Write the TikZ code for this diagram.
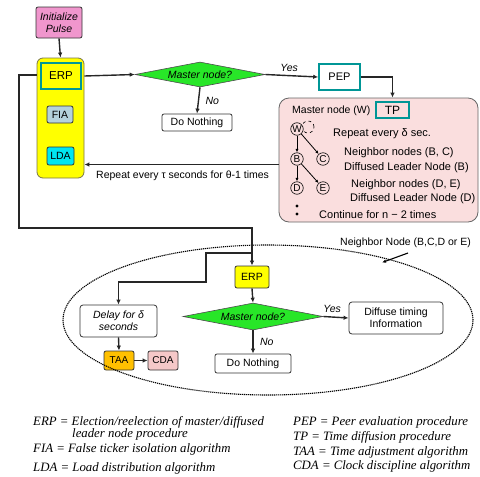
\documentclass[tikz,border=0pt]{standalone}
\usepackage{fontspec}
\setmainfont{Liberation Sans}
\newfontfamily\legfont{Liberation Serif}
\usetikzlibrary{shapes.geometric,arrows.meta}
\definecolor{pinkbox}{RGB}{240,150,205}
\definecolor{yel}{RGB}{255,255,0}
\definecolor{teal2}{RGB}{0,150,150}
\definecolor{fiac}{RGB}{180,210,220}
\definecolor{ldac}{RGB}{0,230,240}
\definecolor{grn}{RGB}{40,230,40}
\definecolor{tpbg}{RGB}{250,222,222}
\definecolor{taac}{RGB}{255,192,0}
\definecolor{cdac}{RGB}{245,200,200}
\begin{document}
\begin{tikzpicture}[x=1pt,y=-1pt,
  font=\fontsize{10.5}{12}\selectfont,
  box/.style={draw=black!80, rounded corners=2pt, line width=0.8pt, inner sep=0pt, align=center},
  tealbox/.style={draw=teal2, line width=1.6pt, inner sep=0pt, align=center},
  dia/.style={diamond, draw=black!70, fill=grn, inner sep=0pt, line width=0.6pt, font=\fontsize{10.5}{12}\selectfont\itshape},
  arr/.style={-{Latex[length=5pt,width=4.5pt]}, line width=1.4pt, draw=black!85},
  tarr/.style={-{Latex[length=3.5pt,width=3pt]}, line width=0.8pt},
  tn/.style={circle, draw, line width=0.6pt, fill=tpbg, minimum size=12.5pt, inner sep=0pt, font=\fontsize{10}{11}\selectfont},
  lab/.style={anchor=west, inner sep=0pt},
  tlab/.style={anchor=west, inner sep=0pt, font=\fontsize{11}{13}\selectfont},
  ital/.style={font=\fontsize{10.5}{12}\selectfont\itshape},
  leg/.style={anchor=west, inner sep=0pt, font=\fontsize{12.8}{14}\selectfont\legfont\itshape}
]
\useasboundingbox (0,0) rectangle (480,477);
\clip (0,0) rectangle (480,477);

% top part
\node[box, fill=pinkbox, minimum width=46pt, minimum height=31pt, ital] (init) at (59,22.5) {Initialize\\Pulse};
\node[box, draw=black!60!yellow, fill=yel, rounded corners=6pt, minimum width=47pt, minimum height=120pt] (ybox) at (60.5,118) {};
\node[tealbox, fill=yel, minimum width=40pt, minimum height=26pt, font=\fontsize{11.5}{13}\selectfont] (erp1) at (61,76) {ERP};
\node[box, fill=fiac, minimum width=26pt, minimum height=17pt] (fia) at (60,114.5) {FIA};
\node[box, fill=ldac, minimum width=27pt, minimum height=18pt] (lda) at (60.5,156) {LDA};

\node[dia, shape aspect=5.2, minimum width=130pt, minimum height=25pt] (d1) at (200,74.5) {Master node?};
\node[box, fill=white, minimum width=70pt, minimum height=17pt] (dn1) at (197,122.5) {Do Nothing};
\node[tealbox, fill=white, minimum width=41pt, minimum height=26pt, font=\fontsize{11}{13}\selectfont] (pep) at (339.5,77) {PEP};

\node[box, draw=black!60, fill=tpbg, rounded corners=10pt, minimum width=199pt, minimum height=124pt] (pink) at (378.5,160) {};
\node[tealbox, fill=tpbg, minimum width=33pt, minimum height=16pt, font=\fontsize{12}{13}\selectfont] (tp) at (392.5,110) {TP};
\node[lab] (mw) at (292,111) {Master node (W)};

% tree
\draw[dashed, line width=0.6pt] (308,127) circle (6pt);
\node[tn] (W) at (297,129) {W};
\node[tn] (B) at (297,159) {B};
\node[tn] (C) at (323,159) {C};
\node[tn] (D) at (297,188) {D};
\node[tn] (E) at (323,188) {E};
\draw[tarr] (W) -- (B);
\draw[tarr] (W) -- (C);
\draw[tarr] (B) -- (D);
\draw[tarr] (B) -- (E);
\fill (297,206) circle (1.7pt);
\fill (297,214) circle (1.7pt);
\node[tlab] (t1) at (333,134) {Repeat every δ sec.};
\node[tlab] (t2) at (344,153) {Neighbor nodes (B, C)};
\node[tlab] (t3) at (344,168) {Diffused Leader Node (B)};
\node[tlab] (t4) at (351,185) {Neighbor nodes (D, E)};
\node[tlab] (t5) at (350,199) {Diffused Leader Node (D)};
\node[tlab] (t6) at (319,215) {Continue for n − 2 times};

% top connectors
\draw[arr] (init.south) -- (ybox.north);
\draw[arr] (ybox.east |- erp1) -- (d1.west);
\draw[arr] (d1.south) -- node[right=3pt, ital] {No} (dn1.north);
\draw[arr] (d1.east) -- node[above=0pt, pos=0.45, ital] {Yes} (pep.west);
\draw[arr] (pep.east) -| (tp.north |- pink.north);
\coordinate (rp) at (pink.west |- 0,164.5);
\draw[arr] (rp) -- (ybox.east |- rp);
\node[lab] (rtxt) at (96,176) {Repeat every τ seconds for θ-1 times};

% bottom part
\node[box, fill=yel, minimum width=34pt, minimum height=22pt] (erp2) at (252,277) {ERP};
\node[dia, shape aspect=5.2, minimum width=140pt, minimum height=27pt] (d2) at (253,316.5) {Master node?};
\node[box, fill=white, rounded corners=3pt, minimum width=94pt, minimum height=32pt] (dif) at (396,318) {Diffuse timing\\Information};
\node[box, fill=white, minimum width=76pt, minimum height=19pt] (dn2) at (253,363.5) {Do Nothing};
\node[box, fill=white, rounded corners=3pt, minimum width=77pt, minimum height=32pt, ital] (delay) at (118.5,321) {Delay for δ\\seconds};
\node[box, fill=taac, minimum width=30pt, minimum height=19pt, font=\fontsize{10}{11}\selectfont] (taa) at (119,360.5) {TAA};
\node[box, fill=cdac, minimum width=30pt, minimum height=19pt, font=\fontsize{10}{11}\selectfont] (cda) at (163,360.5) {CDA};

\draw[line width=1.1pt, dash pattern=on 1.2pt off 0.8pt] (268,320) ellipse [x radius=205pt, y radius=75pt];
\node[lab] (nn) at (340,243) {Neighbor Node (B,C,D or E)};
\coordinate (np1) at (408,253);
\coordinate (np2) at (382,262.5);
\draw[-{Latex[length=4pt,width=3.5pt]}, line width=1.1pt] (np1) -- (np2);

\coordinate (lp1) at (19,75);
\coordinate (lp2) at (19,228);
\draw[arr] (ybox.west |- lp1) -- (lp1) -- (lp2) -- (erp2.north |- lp2) -- (erp2.north);
\coordinate (bp1) at (252,253);
\coordinate (bp2) at (206,253);
\coordinate (bp3) at (206,282);
\draw[arr] (bp1) -- (bp2) -- (bp3) -- (delay.north |- bp3) -- (delay.north);

\draw[arr] (erp2.south) -- (d2.north);
\draw[arr] (d2.east) -- node[above=0pt, pos=0.35, ital] {Yes} (dif.west);
\draw[arr] (d2.south) -- node[right=3pt, ital] {No} (dn2.north);
\draw[arr] (delay.south) -- (taa.north);
\draw[arr] (taa.east) -- (cda.west);

% legend
\node[leg] (l1) at (33,422) {ERP = Election/reelection of master/diffused};
\node[leg] (l2) at (72,434) {leader node procedure};
\node[leg] (l3) at (33,449) {FIA = False ticker isolation algorithm};
\node[leg] (l4) at (33,468) {LDA = Load distribution algorithm};
\node[leg] (r1) at (293,422) {PEP = Peer evaluation procedure};
\node[leg] (r2) at (293,437) {TP = Time diffusion procedure};
\node[leg] (r3) at (293,452) {TAA = Time adjustment algorithm};
\node[leg] (r4) at (293,466) {CDA = Clock discipline algorithm};
\end{tikzpicture}
\end{document}
